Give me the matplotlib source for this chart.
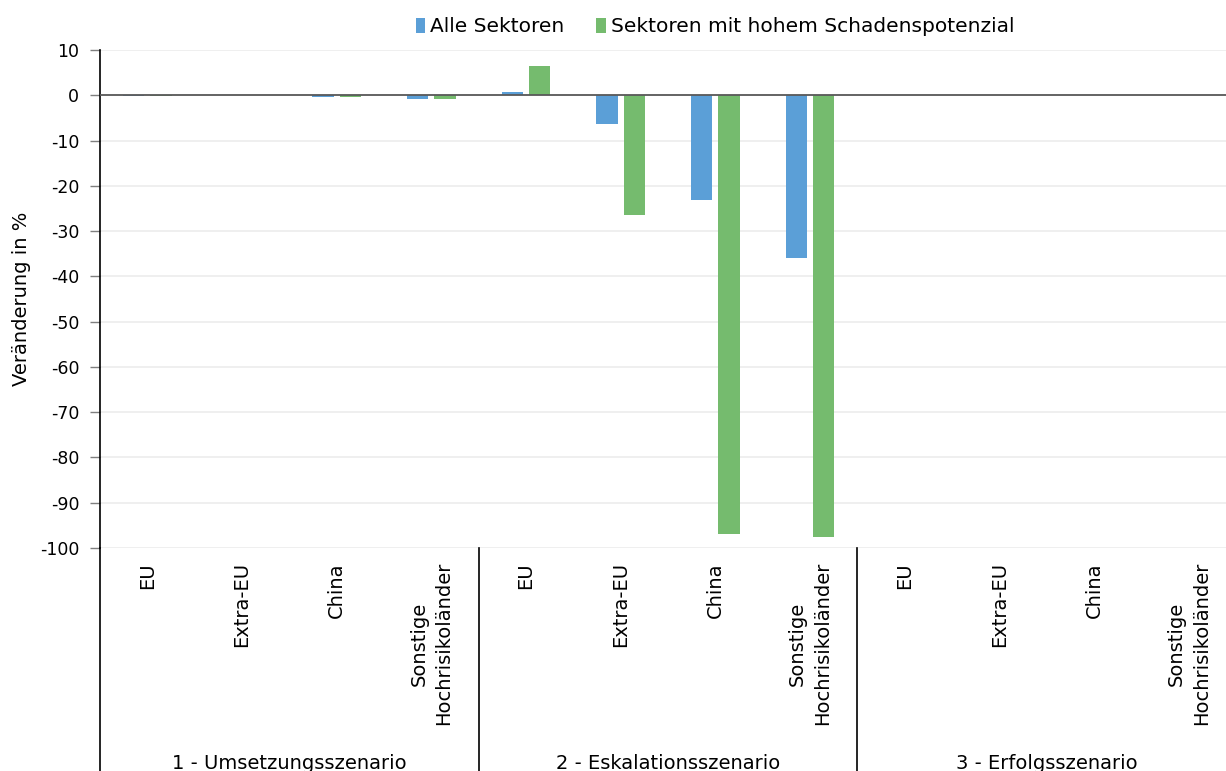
import matplotlib
matplotlib.use("Agg")
import matplotlib.pyplot as plt
import numpy as np

plt.rcParams['font.family'] = ['DejaVu Sans']

categories = ["EU", "Extra-EU", "China", "Sonstige\nHochrisikoländer"] * 3
scenarios = ["1 - Umsetzungsszenario", "2 - Eskalationsszenario", "3 - Erfolgsszenario"]
alle = [-0.1, -0.05, -0.4, -0.8,
        0.7, -6.4, -23.1, -36.0,
        -0.05, -0.03, -0.03, -0.03]
hoch = [-0.1, -0.05, -0.3, -0.9,
        6.4, -26.5, -97.0, -97.6,
        -0.05, -0.03, -0.03, -0.03]
series_names = ["Alle Sektoren", "Sektoren mit hohem Schadenspotenzial"]
yticks = list(range(10, -101, -10))

W, H = 1226, 771
fig = plt.figure(figsize=(W / 100, H / 100), dpi=100)
ax_left, ax_right = 100, 1236
ax_top, ax_bottom = 50, 548
ax = fig.add_axes([ax_left / W, (H - ax_bottom) / H, (ax_right - ax_left) / W, (ax_bottom - ax_top) / H])

blue = "#5B9FD7"
green = "#75BB6E"
x = np.arange(len(categories))
bw = 0.225
off = 0.145
ax.bar(x - off, alle, width=bw, color=blue, label=series_names[0], zorder=3)
ax.bar(x + off, hoch, width=bw, color=green, label=series_names[1], zorder=3)

fs_tick = 12.5
fs = 14
ax.set_xlim(-0.5, len(categories) - 0.5)
ax.set_ylim(-100, 10)
ax.set_yticks(yticks)
ax.set_yticklabels([str(v) for v in yticks], fontsize=fs_tick)
ax.tick_params(axis='y', length=7, color="#7f7f7f", width=1, pad=8)
ax.set_xticks([])
ax.grid(axis='y', color="#ececec", linewidth=1.2, zorder=0)
ax.axhline(0, color="#595959", linewidth=1.3, zorder=4)
for s in ["top", "right", "bottom"]:
    ax.spines[s].set_visible(False)
ax.spines["left"].set_color("black")
ax.spines["left"].set_linewidth(1.2)

ax.set_ylabel("Veränderung in %", fontsize=fs, labelpad=6)

# category axis below
trans = ax.get_xaxis_transform()
ext = -(H - ax_bottom) / (ax_bottom - ax_top)
for b in [-0.5, 3.5, 7.5]:
    ax.plot([b, b], [0, ext], transform=trans, color="black", linewidth=1.2, clip_on=False)

label_top = -(562 - ax_bottom) / (ax_bottom - ax_top)
for i, c in enumerate(categories):
    ax.text(x[i], label_top, c, transform=trans, rotation=90, ha='center', va='top',
            multialignment='center', fontsize=fs, linespacing=1.4)

grp_y = -(769 - ax_bottom) / (ax_bottom - ax_top)
for g, name in enumerate(scenarios):
    ax.text(g * 4 + 1.5, grp_y, name, transform=trans, ha='center', va='baseline', fontsize=fs)

fig.legend(loc='center', bbox_to_anchor=(715 / W, 1 - 27 / H), ncol=2, frameon=False,
           fontsize=14.5, handlelength=0.45, handleheight=0.8, handletextpad=0.25,
           columnspacing=1.6)

fig.savefig("out.png", dpi=100)
